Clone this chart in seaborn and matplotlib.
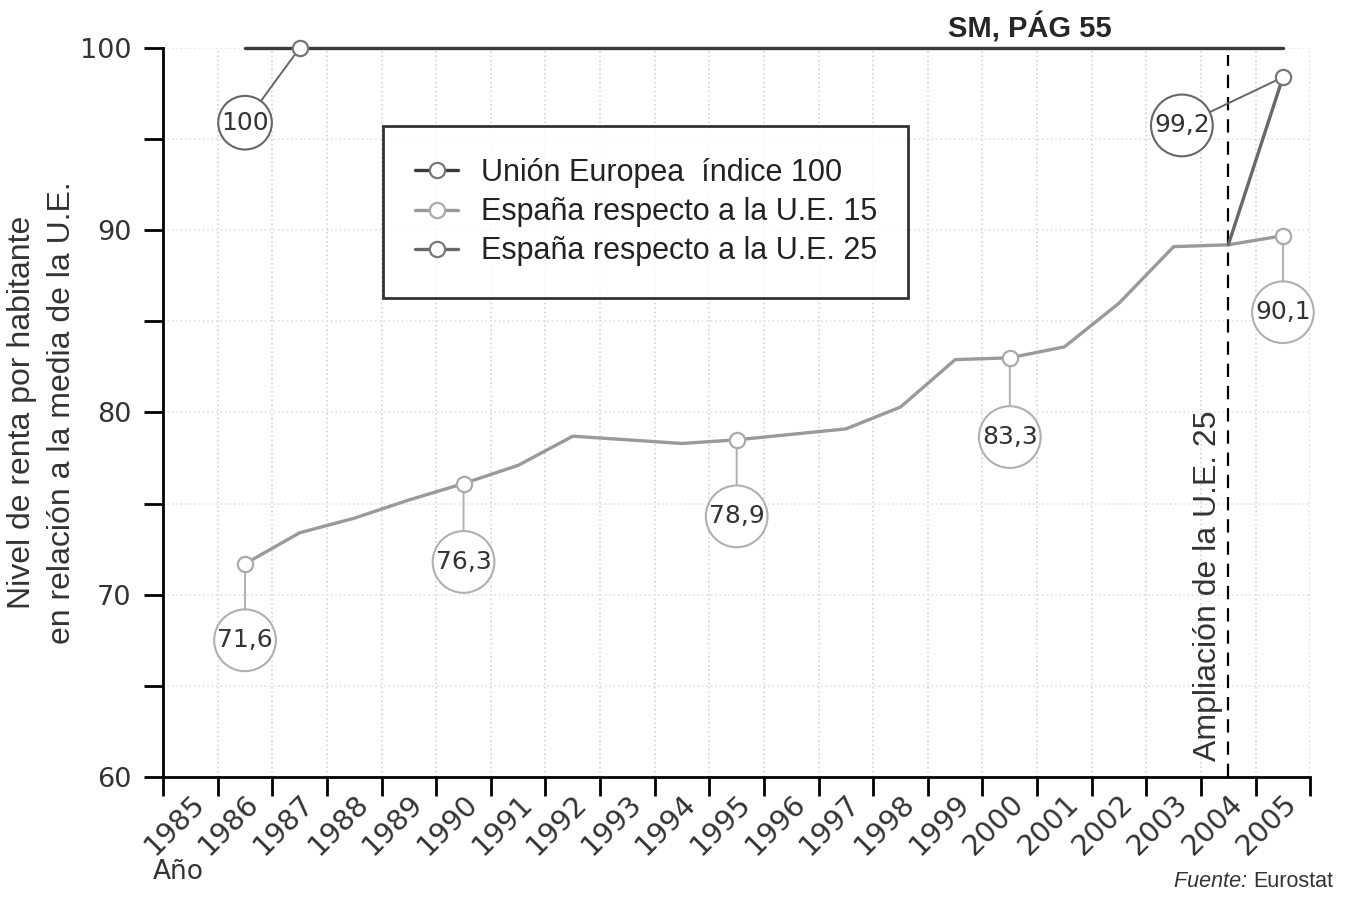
import matplotlib
matplotlib.use('Agg')
import matplotlib.pyplot as plt
from matplotlib.transforms import ScaledTranslation
from matplotlib.ticker import MultipleLocator
import seaborn as sns

# datos
years = list(range(1985, 2006))

ue_years = [1986, 1987, 2005]
ue_index = [100, 100, 100]

es15_years = list(range(1986, 2006))
es15 = [71.7, 73.4, 74.2, 75.2, 76.1, 77.1, 78.7, 78.5, 78.3, 78.5,
        78.8, 79.1, 80.3, 82.9, 83.0, 83.6, 86.0, 89.1, 89.2, 89.7]

es25_years = [2004, 2005]
es25 = [89.2, 98.4]

# etiquetas en circulos: texto, serie y año del punto
label_texts = ['100', '71,6', '76,3', '78,9', '83,3', '99,2', '90,1']
label_series = ['ue', 'es15', 'es15', 'es15', 'es15', 'es25', 'es15']
label_years = [1987, 1986, 1990, 1995, 2000, 2005, 2005]
# donde va cada circulo (posicion de la etiqueta)
label_pos = [(1986, 95.9), (1986, 67.5), (1990, 71.8), (1995, 74.3),
             (2000, 78.65), (2003.15, 95.75), (2005, 85.5)]

ampliacion_year = 2004

sns.set_style('white')
plt.rcParams['font.family'] = ['DejaVu Sans']

fig = plt.figure(figsize=(13.48, 8.97), dpi=100)
ax = fig.add_axes([0.121, 0.1338, 0.851, 0.8127])

c_ue = '#3a3a3a'
c_15 = '#9a9a9a'
c_25 = '#686868'

sns.lineplot(x=ue_years, y=ue_index, ax=ax, color=c_ue, lw=2.4, marker='o',
             markevery=[1], markersize=11, markerfacecolor='white',
             markeredgecolor='#777777', markeredgewidth=1.6, clip_on=False,
             label='Unión Europea  índice 100', zorder=4)
sns.lineplot(x=es15_years, y=es15, ax=ax, color=c_15, lw=2.4, marker='o',
             markevery=[0, 4, 9, 14, 19], markersize=11, markerfacecolor='white',
             markeredgecolor='#aaaaaa', markeredgewidth=1.6, clip_on=False,
             label='España respecto a la U.E. 15', zorder=4)
sns.lineplot(x=es25_years, y=es25, ax=ax, color=c_25, lw=2.4, marker='o',
             markevery=[1], markersize=11, markerfacecolor='white',
             markeredgecolor='#777777', markeredgewidth=1.6, clip_on=False,
             label='España respecto a la U.E. 25', zorder=4)

series = {'ue': (ue_years, ue_index), 'es15': (es15_years, es15),
          'es25': (es25_years, es25)}
for txt, s, yr, pos in zip(label_texts, label_series, label_years, label_pos):
    xs, ys = series[s]
    yv = ys[xs.index(yr)]
    ec = '#666666' if s != 'es15' else '#b0b0b0'
    ax.annotate(txt, xy=(yr, yv), xytext=pos, textcoords='data',
                ha='center', va='center', fontsize=18, color='#333333',
                bbox=dict(boxstyle='circle,pad=0.12', fc='white', ec=ec, lw=1.5),
                arrowprops=dict(arrowstyle='-', color=ec, lw=1.4,
                                shrinkA=0, shrinkB=6),
                zorder=3, annotation_clip=False)

# linea de la ampliacion
ax.vlines(ampliacion_year, 60, 99.6, colors='black', linestyles=(0, (6, 4)),
          lw=1.6, zorder=2)
ax.text(ampliacion_year - 0.38, 60.9, 'Ampliación de la U.E. 25', rotation=90,
        ha='center', va='bottom', fontsize=23, color='#333333',
        family='Liberation Sans')

ax.set_xlim(1984.5, 2005.5)
ax.set_ylim(60, 100)

# ejes
ax.set_xticks(years)
ax.set_xticklabels([str(y) for y in years], rotation=45, ha='right',
                   rotation_mode='anchor', fontsize=20.5, color='#333333')
off = ScaledTranslation(0.24, 0, fig.dpi_scale_trans)
for lab in ax.get_xticklabels():
    lab.set_transform(lab.get_transform() + off)
ax.set_xticks([y + 0.5 for y in [1984] + years], minor=True)
ax.tick_params(axis='x', which='major', length=0, pad=9)
ax.tick_params(axis='x', which='minor', length=14, width=2, color='black',
               direction='out', bottom=True)

ax.yaxis.set_major_locator(MultipleLocator(10))
ax.yaxis.set_minor_locator(MultipleLocator(5))
ax.tick_params(axis='y', which='both', length=14, width=2, color='black',
               direction='out', left=True, pad=9, labelsize=19.5,
               labelcolor='#333333')

ax.grid(axis='x', which='minor', color='#d5d5d5', ls=':', lw=1.2)
ax.grid(axis='y', which='both', color='#e2e2e2', ls=':', lw=1.2)
ax.set_axisbelow(True)

sns.despine(ax=ax)
for sp in ['left', 'bottom']:
    ax.spines[sp].set_linewidth(2)
    ax.spines[sp].set_color('black')

ax.set_xlabel('')
ax.set_ylabel('Nivel de renta por habitante\nen relación a la media de la U.E.',
              fontsize=23, color='#333333', family='Liberation Sans',
              linespacing=1.45)
ax.yaxis.set_label_coords(-0.075, 0.5)

leg = ax.legend(loc='upper left', bbox_to_anchor=(0.192, 0.893, 0.457, 0.0),
                mode='expand', frameon=True, fancybox=False,
                prop={'family': 'Liberation Sans', 'size': 22},
                borderpad=1.05, labelspacing=0.3, handlelength=1.4,
                handletextpad=0.75, borderaxespad=0)
leg.get_frame().set_edgecolor('black')
leg.get_frame().set_linewidth(2)
for t in leg.get_texts():
    t.set_color('#222222')

fig.text(0.764, 0.969, 'SM, PÁG 55', ha='center', va='center', fontsize=21,
         fontweight='bold', family='Liberation Sans')
fig.text(0.113, 0.028, 'Año', ha='left', va='center', fontsize=19,
         color='#333333')
t_src = fig.text(0.989, 0.006, 'Eurostat', ha='right', va='bottom',
                 fontsize=15.5, color='#333333', family='Liberation Sans')
ax.annotate('Fuente: ', xy=(0, 0), xycoords=t_src, ha='right', va='bottom',
            fontsize=15.5, style='italic', color='#333333',
            family='Liberation Sans')

fig.savefig('out.png', dpi=100)
